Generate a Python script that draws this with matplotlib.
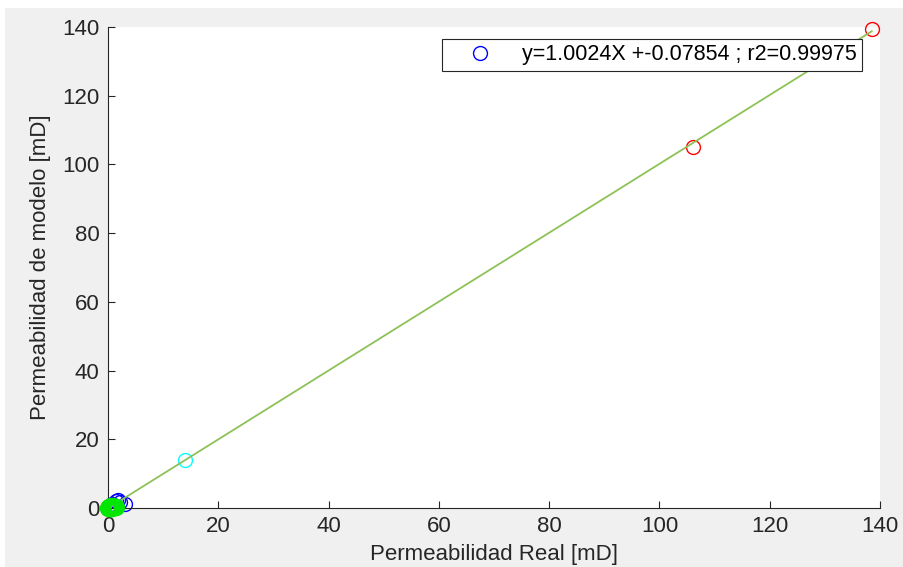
import numpy as np
import matplotlib.pyplot as plt
from matplotlib.patches import Rectangle

plt.rcParams['font.family'] = ['Liberation Sans', 'DejaVu Sans']

# fit parameters shown in the legend
slope = 1.0024
intercept = -0.07854
r2 = 0.99975

# real vs model permeability, grouped by marker colour
blue_real = [0.8, 1.5, 2.2, 3.0, 1.0, 0.5, 1.8]
blue_model = [1.2, 2.0, 1.8, 1.2, 0.5, 0.8, 2.2]
green_real = [0.1, 0.3, 0.5, 0.2, 0.7, 1.0, 0.4, 0.6, 0.9, 0.15, 1.2, 0.05, 1.5, 0.8]
green_model = [0.05, 0.2, 0.1, 0.4, 0.3, 0.2, 0.0, 0.6, 0.5, 0.25, 0.4, 0.1, 0.3, 0.0]
cyan_real = [14.0]
cyan_model = [14.0]
red_real = [106.0, 138.5]
red_model = [105.0, 139.5]

fig = plt.figure(figsize=(9.04, 5.67), dpi=100, facecolor='white')
fig.patches.append(Rectangle((5 / 904, 0), 1, 1 - 8 / 567, transform=fig.transFigure,
                             fc='#f0f0f0', ec='none', zorder=-10))
ax = fig.add_axes([108 / 904, 1 - 508 / 567, 772 / 904, 481 / 567])

ms = 10
ax.plot(blue_real, blue_model, 'o', mfc='none', mec='blue', ms=ms, mew=1,
        label='y=%.4fX +%.5f ; r2=%.5f' % (slope, intercept, r2), clip_on=False)
ax.plot(red_real, red_model, 'o', mfc='none', mec='red', ms=ms, mew=1, clip_on=False)
ax.plot(cyan_real, cyan_model, 'o', mfc='none', mec='cyan', ms=ms, mew=1)
ax.plot(green_real, green_model, 'o', mfc='none', mec='#00e600', ms=ms, mew=2.5,
        clip_on=False, zorder=3)

xs = np.array([0, max(red_real)])
ax.plot(xs, slope * xs + intercept, color='#8cc257', lw=1.3)

ax.set_xlim(0, 140)
ax.set_ylim(0, 140)
ax.set_xticks(range(0, 141, 20))
ax.set_yticks(range(0, 141, 20))
ax.spines['top'].set_visible(False)
ax.spines['right'].set_visible(False)
for s in ['left', 'bottom']:
    ax.spines[s].set_color('#262626')
    ax.spines[s].set_linewidth(0.8)
ax.tick_params(direction='in', length=5, labelsize=16, colors='#262626', pad=6)
ax.set_xlabel('Permeabilidad Real [mD]', fontsize=16, color='#262626', labelpad=5)
ax.set_ylabel('Permeabilidad de modelo [mD]', fontsize=16, color='#262626', labelpad=8)

leg = ax.legend(loc='upper right', bbox_to_anchor=(862 / 904, 1 - 39 / 567),
                bbox_transform=fig.transFigure, fontsize=15.5, fancybox=False,
                framealpha=1, edgecolor='#262626', borderpad=0.25, handlelength=3.0,
                handletextpad=0.45, borderaxespad=0)
leg.get_frame().set_linewidth(0.8)

fig.savefig('out.png', dpi=100, facecolor=fig.get_facecolor())
